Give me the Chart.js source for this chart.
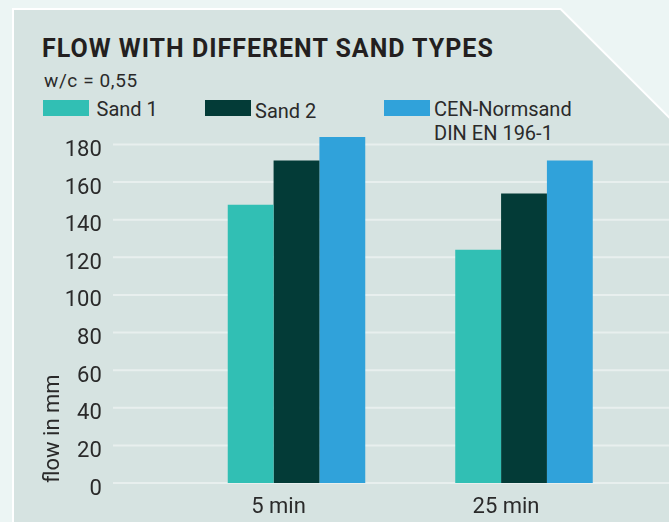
<!DOCTYPE html>
<html>
<head>
<meta charset="utf-8">
<script src="https://cdn.jsdelivr.net/npm/chart.js@4.4.1/dist/chart.umd.min.js"></script>
<style>
    body {
        margin: 0;
        width: 669px;
        height: 522px;
        overflow: hidden;
        background: #ecf5f4;
        font-family: Roboto, sans-serif;
        color: #2a2a2a;
        position: relative;
    }
    .frame {
        position: absolute;
        left: 0;
        top: 0;
        width: 669px;
        height: 522px;
        background: #ffffff;
        clip-path: polygon(12px 8px, 561px 8px, 669px 116px, 669px 522px, 12px 522px);
    }
    .panel {
        position: absolute;
        left: 0;
        top: 0;
        width: 669px;
        height: 522px;
        background: #d6e3e1;
        clip-path: polygon(14px 10px, 560.2px 10px, 669px 118.8px, 669px 522px, 14px 522px);
    }
    .title {
        position: absolute;
        left: 42px;
        top: 35.7px;
        font-size: 25px;
        line-height: 25px;
        font-weight: bold;
        letter-spacing: 1px;
        color: #231f20;
        white-space: nowrap;
    }
    .subtitle {
        position: absolute;
        left: 44px;
        top: 70.7px;
        font-size: 19px;
        line-height: 19px;
        letter-spacing: 0.6px;
        white-space: nowrap;
    }
    .swatch {
        position: absolute;
        width: 46px;
        height: 16px;
    }
    .legendText {
        position: absolute;
        font-size: 20px;
        line-height: 24.3px;
        white-space: nowrap;
    }
    canvas {
        position: absolute;
        left: 0;
        top: 0;
    }
</style>
</head>
<body>
<div class="frame"></div>
<div class="panel"></div>
<div class="title">FLOW WITH DIFFERENT SAND TYPES</div>
<div class="subtitle">w/c = 0,55</div>
<div id="legend"></div>
<canvas id="myChart" width="669" height="522"></canvas>

<script>
document.addEventListener('DOMContentLoaded', function() {

    //chart data
    let categories = ['5 min', '25 min'];
    let seriesNames = [['Sand 1'], ['Sand 2'], ['CEN-Normsand', 'DIN EN 196-1']];
    let sand1 = [148, 124];
    let sand2 = [171.5, 154];
    let cenNormsand = [184, 171.5];
    let yTickLabels = [0, 20, 40, 60, 80, 100, 120, 140, 160, 180];

    let colorHex = ['#31bfb4', '#033b37', '#30a2da'];

    //legend layout (swatch x, text x, text top)
    let legendSwatchX = [43, 205, 384];
    let legendTextX = [96.5, 255, 434];
    let legendTextTop = [96.7, 98.5, 96.7];

    //build legend
    let legendHtml = '';
    seriesNames.forEach((name, i) => {
        legendHtml += `<div class="swatch" style="left:${legendSwatchX[i]}px;top:100px;background:${colorHex[i]}"></div>`;
        legendHtml += `<div class="legendText" style="left:${legendTextX[i]}px;top:${legendTextTop[i]}px">${name.join('<br>')}</div>`;
    });
    document.getElementById('legend').innerHTML = legendHtml;

    //horizontal grid lines run wider than the plot area
    let wideGrid = {
        id: 'wideGrid',
        beforeDatasetsDraw(chart) {
            let ctx = chart.ctx;
            let yScale = chart.scales.y;
            ctx.save();
            ctx.strokeStyle = '#e8efee';
            ctx.lineWidth = 2;
            yScale.ticks.forEach(tick => {
                let py = yScale.getPixelForValue(tick.value);
                ctx.beginPath();
                ctx.moveTo(113, py);
                ctx.lineTo(669, py);
                ctx.stroke();
            });
            ctx.restore();
        }
    };

    Chart.defaults.font.family = 'Roboto';
    Chart.defaults.color = '#2a2a2a';

    let ctx = document.getElementById('myChart').getContext('2d');

    let myChart = new Chart(ctx, {
        type: 'bar',
        data: {
            labels: categories,
            datasets: [
                { label: seriesNames[0].join(' '), data: sand1, backgroundColor: colorHex[0] },
                { label: seriesNames[1].join(' '), data: sand2, backgroundColor: colorHex[1] },
                { label: seriesNames[2].join(' '), data: cenNormsand, backgroundColor: colorHex[2] }
            ]
        },
        options: {
            responsive: false,
            animation: false,
            layout: {
                padding: { left: 0, top: 125.7, right: 31.25, bottom: 0 }
            },
            datasets: {
                bar: {
                    categoryPercentage: 0.6044,
                    barPercentage: 1,
                    borderWidth: 0
                }
            },
            plugins: {
                legend: { display: false },
                tooltip: { enabled: false }
            },
            scales: {
                x: {
                    grid: { display: false, drawTicks: false },
                    border: { display: false },
                    ticks: {
                        font: { size: 22 },
                        padding: 11,
                        labelOffset: -18
                    },
                    afterFit: (scale) => {
                        scale.height = 39;
                        scale.paddingLeft = 0;
                        scale.paddingRight = 0;
                    }
                },
                y: {
                    min: 0,
                    max: 190,
                    grid: { display: false, drawTicks: false },
                    border: { display: false },
                    afterBuildTicks: (scale) => {
                        scale.ticks = yTickLabels.map(v => ({ value: v }));
                    },
                    ticks: {
                        font: { size: 22 },
                        padding: 81,
                        labelOffset: 6
                    },
                    title: {
                        display: true,
                        text: 'flow in mm',
                        align: 'start',
                        font: { size: 22 },
                        padding: { top: 40, bottom: 0 }
                    },
                    afterFit: (scale) => {
                        //tick padding is big, keep it from shrinking the plot
                        scale.width = 182.75;
                        scale.paddingTop = 0;
                        scale.paddingBottom = 0;
                    }
                }
            }
        },
        plugins: [wideGrid]
    });
});
</script>
</body>
</html>
